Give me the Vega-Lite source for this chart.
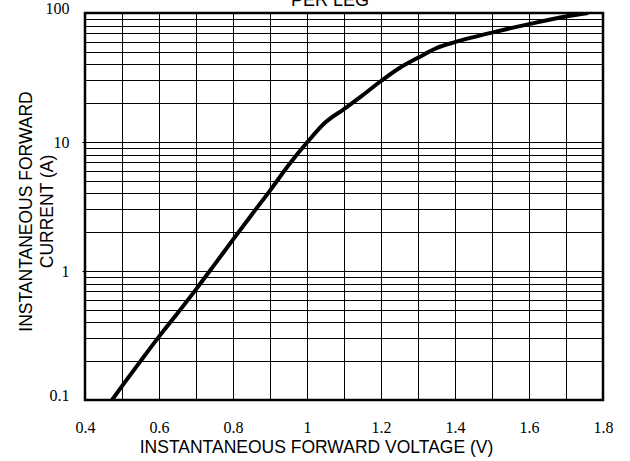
{
  "$schema": "https://vega.github.io/schema/vega-lite/v6.json",
  "autosize": "none",
  "width": 518,
  "height": 387,
  "padding": {"left": 85, "top": 13, "right": 27, "bottom": 61},
  "background": "white",
  "title": {
    "text": "PER LEG",
    "anchor": "middle",
    "frame": "group",
    "font": "Liberation Sans",
    "fontSize": 18,
    "fontWeight": "normal",
    "color": "black",
    "baseline": "alphabetic",
    "offset": 0,
    "dy": 24,
    "dx": -14
  },
  "config": {
    "view": {"stroke": "black", "strokeWidth": 2.5}
  },
  "data": {
    "values": [
      {"v": 0.473, "i": 0.1},
      {"v": 0.5, "i": 0.128},
      {"v": 0.55, "i": 0.2},
      {"v": 0.6, "i": 0.31},
      {"v": 0.65, "i": 0.47},
      {"v": 0.7, "i": 0.72},
      {"v": 0.75, "i": 1.12},
      {"v": 0.8, "i": 1.75},
      {"v": 0.85, "i": 2.72},
      {"v": 0.9, "i": 4.2},
      {"v": 0.95, "i": 6.6},
      {"v": 1.0, "i": 9.9},
      {"v": 1.05, "i": 14.2},
      {"v": 1.1, "i": 18},
      {"v": 1.15, "i": 23},
      {"v": 1.2, "i": 29.7},
      {"v": 1.25, "i": 37.5},
      {"v": 1.3, "i": 45},
      {"v": 1.35, "i": 53.5},
      {"v": 1.4, "i": 59.5},
      {"v": 1.45, "i": 65},
      {"v": 1.5, "i": 70.5},
      {"v": 1.6, "i": 82},
      {"v": 1.7, "i": 94},
      {"v": 1.76, "i": 100}
    ]
  },
  "mark": {"type": "line", "color": "black", "strokeWidth": 4, "interpolate": "monotone", "clip": true},
  "encoding": {
    "x": {
      "field": "v",
      "type": "quantitative",
      "scale": {"domain": [0.4, 1.8], "nice": false, "zero": false},
      "axis": {
        "values": [0.4, 0.5, 0.6, 0.7, 0.8, 0.9, 1.0, 1.1, 1.2, 1.3, 1.4, 1.5, 1.6, 1.7, 1.8],
        "labelExpr": "round(datum.value*10) % 2 == 0 ? format(datum.value, '~g') : ''",
        "grid": true,
        "gridColor": "black",
        "gridOpacity": 1,
        "gridWidth": 1,
        "domain": false,
        "ticks": false,
        "labelPadding": 19,
        "labelBaseline": "top",
        "labelFont": "Liberation Serif",
        "labelFontSize": 16,
        "labelColor": "black",
        "labelFlush": false,
        "labelOverlap": false,
        "title": "INSTANTANEOUS FORWARD VOLTAGE (V)",
        "titleFont": "Liberation Sans",
        "titleFontSize": 17.5,
        "titleFontWeight": "normal",
        "titleColor": "black",
        "titleBaseline": "alphabetic",
        "titleX": 231,
        "titleY": 52,
        "titleAnchor": null,
        "titleAlign": "center"
      }
    },
    "y": {
      "field": "i",
      "type": "quantitative",
      "scale": {"type": "log", "domain": [0.1, 100], "nice": false},
      "axis": {
        "values": [0.1, 0.2, 0.3, 0.4, 0.5, 0.6, 0.7, 0.8, 0.9, 1, 2, 3, 4, 5, 6, 7, 8, 9, 10, 20, 30, 40, 50, 60, 70, 80, 90, 100],
        "labelExpr": "(datum.value == 0.1 || datum.value == 1 || datum.value == 10 || datum.value == 100) ? format(datum.value, '~g') : ''",
        "grid": true,
        "gridColor": "black",
        "gridOpacity": 1,
        "gridWidth": 1,
        "domain": false,
        "ticks": true,
        "tickSize": 3,
        "tickColor": {"condition": {"test": "datum.value == 1 || datum.value == 10", "value": "black"}, "value": "transparent"},
        "labelPadding": 13,
        "labelBaseline": {"condition": {"test": "datum.value == 100 || datum.value == 0.1", "value": "alphabetic"}, "value": "middle"},
        "labelFont": "Liberation Serif",
        "labelFontSize": 16,
        "labelColor": "black",
        "labelFlush": false,
        "labelOverlap": false,
        "title": ["INSTANTANEOUS FORWARD", "CURRENT (A)"],
        "titleFont": "Liberation Sans",
        "titleFontSize": 17.5,
        "titleFontWeight": "normal",
        "titleColor": "black",
        "titleLineHeight": 21.5,
        "titleAngle": -90,
        "titleBaseline": "middle",
        "titleAlign": "center",
        "titleX": -59,
        "titleY": 198,
        "titleAnchor": null
      }
    }
  }
}
